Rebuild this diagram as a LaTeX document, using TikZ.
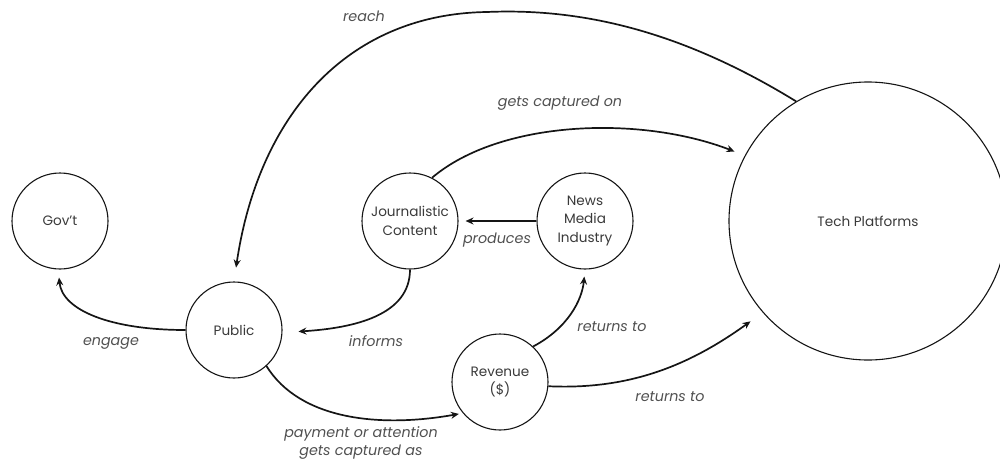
\documentclass[tikz,border=0pt]{standalone}
\usepackage{fontspec}
\setmainfont{Poppins}
\usetikzlibrary{arrows.meta}
\definecolor{inkline}{HTML}{151515}
\definecolor{nodetext}{HTML}{3A3A3A}
\definecolor{edgetextcol}{HTML}{505050}
\begin{document}
\begin{tikzpicture}[x=1pt,y=-1pt,
  entity/.style={circle,draw=inkline,line width=1.1pt,minimum size=96pt,inner sep=0pt,
    align=center,text=nodetext,font=\fontsize{13.6}{18.3}\selectfont},
  link/.style={draw=inkline,line width=1.7pt,-{Stealth[length=8pt,width=7pt]}},
  edgetext/.style={text=edgetextcol,font=\fontsize{14.3}{18}\selectfont\itshape,
    inner sep=0pt,align=center}]
\useasboundingbox (0,0) rectangle (1000,463);
\clip (0,0) rectangle (1000,463);

% entities
\node[entity] (gov) at (60,221) {Gov’t};
\node[entity] (pub) at (234,330) {Public};
\node[entity] (jc)  at (410,221) {Journalistic\\Content};
\node[entity] (nmi) at (585,221) {News\\Media\\Industry};
\node[entity] (rev) at (500,382) {Revenue\\(\$)};
\node[entity,minimum size=278pt] (tech) at (868,221) {Tech Platforms};

% relations
\draw[link,shorten >=14pt] (tech.121) .. controls (680,30) and (580,8) .. (487,12)
  .. controls (345,14) and (258,118) .. (pub.north);
\draw[link,shorten >=11pt] (jc.63) .. controls (500,120) and (640,115) .. (tech.152);
\draw[link,shorten >=7pt] (nmi.west) -- (jc.east);
\draw[link,shorten >=16pt] (jc.south) .. controls (410,315) and (355,328) .. (pub.-3);
\draw[link,shorten >=8pt] (pub.west) .. controls (110,330) and (62,310) .. (gov.-92);
\draw[link,shorten >=4pt] (pub.-48) .. controls (300,420) and (380,428) .. (rev.220);
\draw[link,shorten >=7pt] (rev.47) .. controls (568,328) and (582,300) .. (nmi.south);
\draw[link,shorten >=15pt] (rev.-5) .. controls (630,390) and (690,365) .. (tech.221);

% relation labels
\node[edgetext] (lreach)   at (364,16)  {reach};
\node[edgetext] (lcapture) at (560,103) {gets captured on};
\node[edgetext] (lproduce) at (497,240) {produces};
\node[edgetext] (linform)  at (376,341) {informs};
\node[edgetext] (lengage)  at (111,343) {engage};
\node[edgetext] (lpay)     at (361,443) {payment or attention\\gets captured as};
\node[edgetext] (lret1)    at (612,327) {returns to};
\node[edgetext] (lret2)    at (670,397) {returns to};
\end{tikzpicture}
\end{document}
